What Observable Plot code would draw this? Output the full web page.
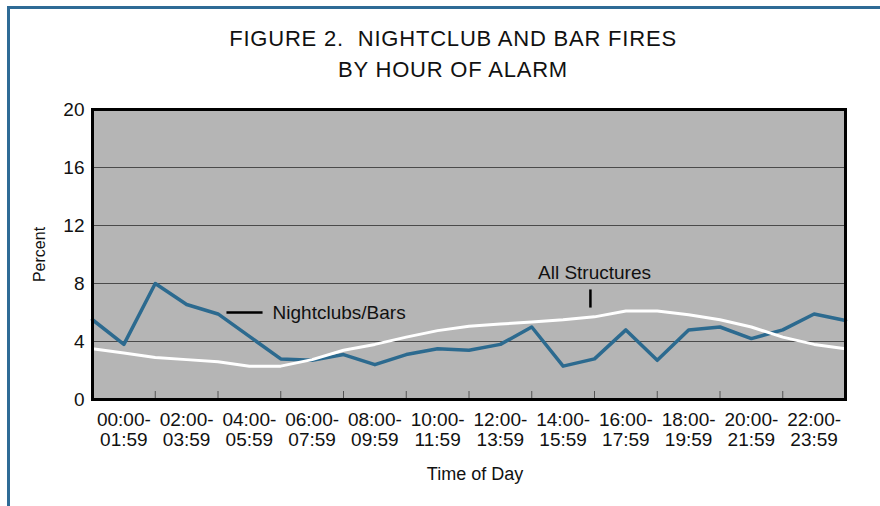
<!DOCTYPE html>
<html><head><meta charset="utf-8">
<script src="https://cdn.jsdelivr.net/npm/d3@7"></script>
<script src="https://cdn.jsdelivr.net/npm/@observablehq/plot@0.6"></script>
<style>
body{margin:0;background:#fff;}
#fig{position:relative;width:880px;height:506px;overflow:hidden;font-family:"Liberation Sans",Arial,sans-serif;}
#border{position:absolute;left:7px;top:6px;right:-5px;bottom:-5px;border-top:3px solid #2f6b96;border-left:3px solid #2f6b96;z-index:2;pointer-events:none;}
#title{height:95px;box-sizing:border-box;padding-top:24px;padding-left:26px;text-align:center;font-size:22px;line-height:30.6px;letter-spacing:0.8px;color:#111;white-space:nowrap;}
#chart svg{display:block;}
</style></head><body>
<div id="fig"><div id="border"></div><div id="title">FIGURE 2.&nbsp; NIGHTCLUB AND BAR FIRES<br>BY HOUR OF ALARM</div><div id="chart"></div></div>
<script>
// Hour of alarm (0..24, the last point repeats midnight)
const hours = [0,1,2,3,4,5,6,7,8,9,10,11,12,13,14,15,16,17,18,19,20,21,22,23,24];
// Percent of fires, Nightclubs/Bars
const nightclubs = [5.5,3.8,8.0,6.55,5.9,4.35,2.8,2.7,3.1,2.4,3.1,3.5,3.4,3.8,5.0,2.3,2.8,4.8,2.7,4.8,5.0,4.2,4.8,5.9,5.45];
// Percent of fires, All Structures
const allStructures = [3.5,3.2,2.9,2.75,2.6,2.3,2.3,2.75,3.4,3.8,4.3,4.75,5.05,5.2,5.35,5.5,5.7,6.1,6.1,5.85,5.5,5.0,4.3,3.8,3.5];
// y-axis ticks and gridlines
const yTicks = [0,4,8,12,16,20];
const gridValues = [4,8,12,16];
// x-axis groups (two-hour bins)
const groupStarts = [0,2,4,6,8,10,12,14,16,18,20,22];
const tickTop = ["00:00-","02:00-","04:00-","06:00-","08:00-","10:00-","12:00-","14:00-","16:00-","18:00-","20:00-","22:00-"];
const tickBottom = ["01:59","03:59","05:59","07:59","09:59","11:59","13:59","15:59","17:59","19:59","21:59","23:59"];
// Direct labels
const nightLabel = {text:"Nightclubs/Bars", x:5.74, y:5.95};
const allLabel = {text:"All Structures", x:16.0, y:8.76};
const connX1 = [4.27,15.87], connX2 = [5.42,15.87], connY1 = [6.0,6.34], connY2 = [6.0,7.59];

const nightRows = hours.map((h,i)=>({hour:h, value:nightclubs[i]}));
const allRows = hours.map((h,i)=>({hour:h, value:allStructures[i]}));
const groupsTop = groupStarts.map((s,i)=>({mid:s+1, label:tickTop[i]}));
const groupsBottom = groupStarts.map((s,i)=>({mid:s+1, label:tickBottom[i]}));
const conns = connX1.map((x,i)=>({x1:x, x2:connX2[i], y1:connY1[i], y2:connY2[i]}));

const chart = Plot.plot({
  width: 880, height: 411,
  marginLeft: 92, marginRight: 35, marginTop: 14, marginBottom: 107,
  x: {domain:[0,24], axis:null},
  y: {domain:[0,20], axis:null},
  style: {fontFamily:'"Liberation Sans", Arial, sans-serif', fontSize:"18px", color:"#111", background:"transparent", overflow:"visible"},
  marks: [
    Plot.frame({fill:"#b5b5b5"}),
    Plot.ruleY(gridValues, {stroke:"#4a4a4a", strokeWidth:1}),
    Plot.ruleX(groupStarts.slice(1), {stroke:"#555", strokeWidth:1, insetTop:282}),
    Plot.line(nightRows, {x:"hour", y:"value", stroke:"#2c6a8f", strokeWidth:3.5}),
    Plot.line(allRows, {x:"hour", y:"value", stroke:"white", strokeWidth:3}),
    Plot.frame({stroke:"black", strokeWidth:3}),
    Plot.text(yTicks, {y:d=>d, frameAnchor:"left", dx:-8, textAnchor:"end", lineAnchor:"middle", text:d=>String(d), fontSize:19, fill:"#111"}),
    Plot.text(groupsTop, {x:"mid", frameAnchor:"bottom", dy:20, lineAnchor:"middle", textAnchor:"middle", text:"label", fontSize:19, fill:"#111"}),
    Plot.text(groupsBottom, {x:"mid", frameAnchor:"bottom", dy:40, lineAnchor:"middle", textAnchor:"middle", text:"label", fontSize:19, fill:"#111"}),
    Plot.text(["Percent"], {frameAnchor:"left", dx:-53, rotate:-90, textAnchor:"middle", lineAnchor:"middle", fontSize:16, fill:"#111"}),
    Plot.text(["Time of Day"], {frameAnchor:"bottom", dx:6, dy:75, textAnchor:"middle", lineAnchor:"middle", fontSize:18, fill:"#111"}),
    Plot.link(conns, {x1:"x1", x2:"x2", y1:"y1", y2:"y2", stroke:"black", strokeWidth:2.5}),
    Plot.text([nightLabel], {x:"x", y:"y", text:"text", textAnchor:"start", fontSize:19, fill:"#111"}),
    Plot.text([allLabel], {x:"x", y:"y", text:"text", textAnchor:"middle", fontSize:19, fill:"#111"})
  ]
});
document.getElementById("chart").appendChild(chart);
</script>
</body></html>
